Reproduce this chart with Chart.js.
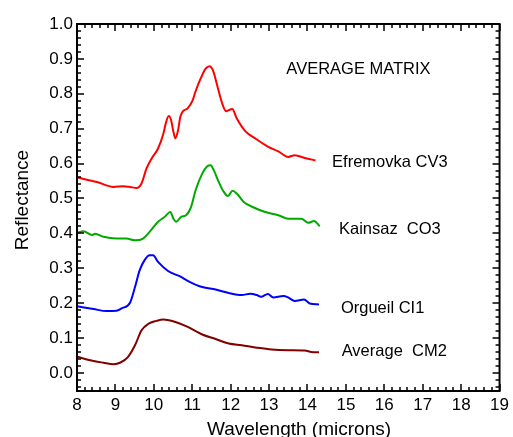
<!DOCTYPE html>
<html>
<head>
<meta charset="utf-8">
<script src="https://cdn.jsdelivr.net/npm/chart.js@4/dist/chart.umd.min.js"></script>
<style>
  html, body { margin: 0; padding: 0; background: #fff; }
  canvas { display: block; }
</style>
</head>
<body>
<canvas id="chart" width="513" height="437"></canvas>
<script>
// spectra (wavelength in microns, reflectance)
const efremovkaX = [8.0, 8.52, 8.95, 9.2, 9.38, 9.55, 9.68, 9.81, 9.94, 10.11, 10.25, 10.32, 10.39, 10.45, 10.51, 10.56, 10.63, 10.69, 10.76, 10.88, 11.01, 11.08, 11.22, 11.35, 11.45, 11.54, 11.65, 11.78, 11.88, 11.95, 12.04, 12.16, 12.38, 12.64, 12.98, 13.24, 13.50, 13.67, 13.93, 14.21];
const efremovkaY = [0.560, 0.547, 0.533, 0.535, 0.533, 0.530, 0.543, 0.586, 0.614, 0.643, 0.686, 0.719, 0.736, 0.724, 0.691, 0.672, 0.695, 0.734, 0.750, 0.758, 0.781, 0.805, 0.844, 0.872, 0.879, 0.867, 0.824, 0.772, 0.750, 0.753, 0.756, 0.729, 0.693, 0.672, 0.648, 0.635, 0.619, 0.624, 0.616, 0.609];

const kainsazX = [8.0, 8.17, 8.39, 8.47, 8.69, 9.03, 9.29, 9.51, 9.72, 9.89, 10.11, 10.28, 10.43, 10.51, 10.58, 10.71, 10.84, 10.97, 11.09, 11.26, 11.39, 11.48, 11.56, 11.69, 11.82, 11.93, 12.05, 12.16, 12.34, 12.60, 12.90, 13.24, 13.50, 13.84, 14.02, 14.17, 14.32];
const kainsazY = [0.401, 0.406, 0.395, 0.399, 0.390, 0.385, 0.385, 0.380, 0.385, 0.404, 0.433, 0.447, 0.461, 0.442, 0.433, 0.447, 0.452, 0.476, 0.524, 0.571, 0.592, 0.595, 0.581, 0.547, 0.519, 0.507, 0.522, 0.514, 0.490, 0.474, 0.461, 0.452, 0.442, 0.442, 0.430, 0.435, 0.420];

const orgueilX = [8.0, 8.43, 8.77, 9.03, 9.16, 9.38, 9.51, 9.63, 9.76, 9.89, 9.98, 10.11, 10.37, 10.67, 10.93, 11.26, 11.61, 11.95, 12.29, 12.51, 12.68, 12.79, 12.97, 13.11, 13.37, 13.50, 13.67, 13.91, 14.06, 14.30];
const orgueilY = [0.191, 0.183, 0.177, 0.178, 0.185, 0.201, 0.246, 0.294, 0.323, 0.337, 0.337, 0.318, 0.292, 0.277, 0.261, 0.246, 0.239, 0.229, 0.223, 0.227, 0.223, 0.218, 0.226, 0.216, 0.220, 0.216, 0.206, 0.210, 0.199, 0.196];

const cm2X = [8.0, 8.43, 8.69, 8.95, 9.12, 9.33, 9.51, 9.68, 9.85, 10.07, 10.25, 10.50, 10.84, 11.26, 11.61, 11.95, 12.29, 12.64, 13.07, 13.50, 13.93, 14.10, 14.30];
const cm2Y = [0.046, 0.034, 0.029, 0.025, 0.029, 0.046, 0.079, 0.122, 0.140, 0.149, 0.153, 0.148, 0.134, 0.110, 0.097, 0.084, 0.079, 0.073, 0.067, 0.065, 0.064, 0.060, 0.059];

const xTicks = [8, 9, 10, 11, 12, 13, 14, 15, 16, 17, 18, 19];
const yTicks = [0.0, 0.1, 0.2, 0.3, 0.4, 0.5, 0.6, 0.7, 0.8, 0.9, 1.0];

// text placed inside the plot (data coordinates, baseline)
const noteTexts = ['AVERAGE MATRIX', 'Efremovka CV3', 'Kainsaz  CO3', 'Orgueil CI1', 'Average  CM2'];
const noteX = [13.45, 14.64, 14.82, 14.87, 14.89];
const noteY = [0.858, 0.590, 0.399, 0.172, 0.049];

const FONT = '"Liberation Sans", Arial, sans-serif';

function toPoints(xs, ys) {
    return xs.map((x, i) => ({x: x, y: ys[i]}));
}

function series(xs, ys, color) {
    return {
        data: toPoints(xs, ys),
        borderColor: color,
        borderWidth: 2,
        pointRadius: 0,
        fill: false,
        cubicInterpolationMode: 'monotone'
    };
}

// box with inward ticks on all four sides, titles and notes
const framePlugin = {
    id: 'frame',
    afterDraw(chart) {
        const ctx = chart.ctx;
        const a = chart.chartArea;
        const xs = chart.scales.x;
        const ys = chart.scales.y;
        ctx.save();
        ctx.strokeStyle = '#000';
        ctx.lineWidth = 2;
        ctx.strokeRect(a.left, a.top, a.right - a.left, a.bottom - a.top);

        ctx.beginPath();
        for (let i = 0; i <= 55; i++) {
            const v = 8 + i * 0.2;
            const len = (i % 5 === 0) ? 7 : 4;
            const px = Math.round(xs.getPixelForValue(v));
            ctx.moveTo(px, a.bottom); ctx.lineTo(px, a.bottom - len);
            ctx.moveTo(px, a.top); ctx.lineTo(px, a.top + len);
        }
        for (let i = -2; i <= 50; i++) {
            const v = i * 0.02;
            const len = (i % 5 === 0) ? 7 : 4;
            const py = Math.round(ys.getPixelForValue(v));
            ctx.moveTo(a.left, py); ctx.lineTo(a.left + len, py);
            ctx.moveTo(a.right, py); ctx.lineTo(a.right - len, py);
        }
        ctx.lineWidth = 1.5;
        ctx.stroke();

        ctx.fillStyle = '#000';
        ctx.font = '16.5px ' + FONT;
        ctx.textAlign = 'left';
        ctx.textBaseline = 'alphabetic';
        for (let i = 0; i < noteTexts.length; i++) {
            ctx.fillText(noteTexts[i], xs.getPixelForValue(noteX[i]), ys.getPixelForValue(noteY[i]));
        }

        ctx.font = '19px ' + FONT;
        ctx.textAlign = 'center';
        ctx.fillText('Wavelength (microns)', 299, 435);
        ctx.translate(28, 200);
        ctx.rotate(-Math.PI / 2);
        ctx.fillText('Reflectance', 0, 0);
        ctx.restore();
    }
};

new Chart(document.getElementById('chart'), {
    type: 'line',
    data: {
        datasets: [
            series(efremovkaX, efremovkaY, 'rgb(255, 0, 0)'),
            series(kainsazX, kainsazY, 'rgb(0, 170, 0)'),
            series(orgueilX, orgueilY, 'rgb(0, 0, 255)'),
            series(cm2X, cm2Y, 'rgb(128, 0, 0)')
        ]
    },
    options: {
        responsive: false,
        animation: false,
        layout: {padding: {top: 24, right: 10, left: 0, bottom: 0}},
        plugins: {legend: {display: false}, tooltip: {enabled: false}},
        scales: {
            x: {
                type: 'linear',
                min: 8,
                max: 19,
                grid: {display: false, drawTicks: false},
                border: {display: false},
                ticks: {padding: 4, color: '#000', font: {family: FONT, size: 17},
                        callback: v => String(v)},
                afterBuildTicks: s => { s.ticks = xTicks.map(v => ({value: v})); },
                afterFit: s => { s.height = 46; }
            },
            y: {
                type: 'linear',
                min: -0.052,
                max: 1.0,
                grid: {display: false, drawTicks: false},
                border: {display: false},
                ticks: {padding: 4, color: '#000', font: {family: FONT, size: 17},
                        callback: v => v.toFixed(1)},
                afterBuildTicks: s => { s.ticks = yTicks.map(v => ({value: v})); },
                afterFit: s => { s.width = 77; }
            }
        }
    },
    plugins: [framePlugin]
});
</script>
</body>
</html>
